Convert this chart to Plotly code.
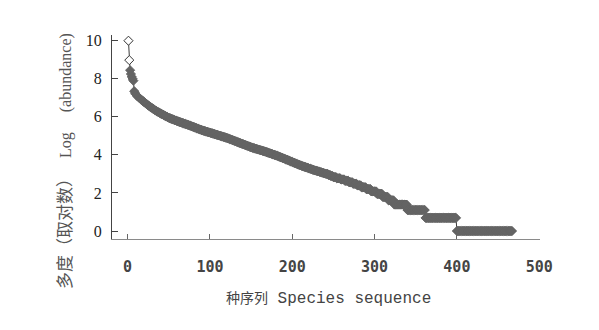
import plotly.graph_objects as go

# log(abundance) of each species, in rank order
log_abundance = [
    10.00, 8.98, 8.45, 8.25, 8.10, 8.00, 7.90, 7.35, 7.25, 7.18, 7.12, 7.08, 7.04,
    7.00, 6.96, 6.92, 6.89, 6.85, 6.81, 6.78, 6.74, 6.71, 6.67, 6.64, 6.60,
    6.57, 6.54, 6.51, 6.48, 6.45, 6.42, 6.39, 6.36, 6.33, 6.30, 6.28, 6.25,
    6.23, 6.20, 6.18, 6.16, 6.13, 6.11, 6.09, 6.06, 6.04, 6.02, 6.00, 5.97, 5.95,
    5.93, 5.92, 5.90, 5.88, 5.87, 5.85, 5.83, 5.81, 5.80, 5.78,
    5.76, 5.75, 5.73, 5.72, 5.70, 5.69, 5.67, 5.66, 5.64, 5.63, 5.61, 5.60, 5.58, 5.57, 5.55,
    5.53, 5.52, 5.50, 5.48, 5.47, 5.45, 5.43, 5.42, 5.40, 5.38, 5.37, 5.35, 5.33, 5.32, 5.30,
    5.29, 5.27, 5.26, 5.25, 5.23, 5.22, 5.21, 5.19, 5.18, 5.17, 5.15, 5.14, 5.13, 5.11, 5.10,
    5.09, 5.07, 5.06, 5.05, 5.03, 5.02, 5.01, 4.99, 4.98, 4.97, 4.95, 4.94, 4.93, 4.91, 4.90,
    4.88, 4.87, 4.85, 4.83, 4.82, 4.80, 4.78, 4.77, 4.75, 4.73, 4.72, 4.70, 4.68, 4.67, 4.65,
    4.63, 4.62, 4.60, 4.58, 4.57, 4.55, 4.53, 4.52, 4.50, 4.48, 4.47, 4.45, 4.43, 4.42, 4.40,
    4.39, 4.37, 4.36, 4.35, 4.33, 4.32, 4.31, 4.29, 4.28, 4.27, 4.25, 4.24, 4.23, 4.21, 4.20,
    4.19, 4.17, 4.16, 4.14, 4.13, 4.11, 4.10, 4.08, 4.07, 4.05, 4.04, 4.02, 4.01, 3.99, 3.98,
    3.96, 3.95, 3.93, 3.91, 3.89, 3.88, 3.86, 3.84, 3.82, 3.81, 3.79, 3.77, 3.75, 3.74, 3.72,
    3.70, 3.68, 3.66, 3.65, 3.63, 3.61, 3.59, 3.57, 3.56, 3.54, 3.52, 3.50, 3.48, 3.47, 3.45,
    3.43, 3.42, 3.40, 3.39, 3.37, 3.36, 3.34, 3.33, 3.31, 3.30, 3.28, 3.27, 3.25, 3.24, 3.22,
    3.21, 3.19, 3.18, 3.17, 3.15, 3.14, 3.13, 3.11, 3.10, 3.09, 3.07, 3.06, 3.05, 3.03, 3.02,
    3.00, 3.00, 3.00, 2.94, 2.94, 2.94, 2.89, 2.89, 2.89, 2.83, 2.83, 2.83, 2.83, 2.77, 2.77,
    2.77, 2.77, 2.77, 2.71, 2.71, 2.71, 2.71, 2.71, 2.64, 2.64, 2.64, 2.64, 2.64, 2.56, 2.56,
    2.56, 2.56, 2.56, 2.48, 2.48, 2.48, 2.48, 2.48, 2.40, 2.40, 2.40, 2.40, 2.40, 2.30, 2.30,
    2.30, 2.30, 2.30, 2.30, 2.20, 2.20, 2.20, 2.20, 2.20, 2.20, 2.08, 2.08, 2.08, 2.08, 2.08,
    2.08, 2.08,
    1.95, 1.95, 1.95, 1.95, 1.95, 1.95, 1.95,
    1.79, 1.79, 1.79, 1.79, 1.79, 1.79, 1.79,
    1.61, 1.61, 1.61, 1.61, 1.61, 1.61, 1.61,
    1.39, 1.39, 1.39, 1.39, 1.39, 1.39, 1.39, 1.39, 1.39, 1.39, 1.39, 1.39, 1.39, 1.39, 1.39, 1.39,
    1.10, 1.10, 1.10, 1.10, 1.10, 1.10, 1.10, 1.10, 1.10, 1.10, 1.10,
    1.10, 1.10, 1.10, 1.10, 1.10, 1.10, 1.10, 1.10, 1.10, 1.10, 1.10,
    0.69, 0.69, 0.69, 0.69, 0.69, 0.69, 0.69, 0.69, 0.69, 0.69, 0.69, 0.69, 0.69,
    0.69, 0.69, 0.69, 0.69, 0.69, 0.69, 0.69, 0.69, 0.69, 0.69, 0.69, 0.69, 0.69,
    0.69, 0.69, 0.69, 0.69, 0.69, 0.69, 0.69, 0.69, 0.69, 0.69, 0.69, 0.69,
    0.00, 0.00, 0.00, 0.00, 0.00, 0.00, 0.00, 0.00, 0.00, 0.00, 0.00, 0.00, 0.00, 0.00, 0.00, 0.00, 0.00,
    0.00, 0.00, 0.00, 0.00, 0.00, 0.00, 0.00, 0.00, 0.00, 0.00, 0.00, 0.00, 0.00, 0.00, 0.00, 0.00, 0.00,
    0.00, 0.00, 0.00, 0.00, 0.00, 0.00, 0.00, 0.00, 0.00, 0.00, 0.00, 0.00, 0.00, 0.00, 0.00, 0.00, 0.00,
    0.00, 0.00, 0.00, 0.00, 0.00, 0.00, 0.00, 0.00, 0.00, 0.00, 0.00, 0.00, 0.00, 0.00, 0.00, 0.00, 0.00,
]
species_rank = list(range(1, len(log_abundance) + 1))

x_tick_values = [0, 100, 200, 300, 400, 500]
y_tick_values = [0, 2, 4, 6, 8, 10]
n_open_markers = 2

x_title = '<span style="font-size:14px">种序列</span> Species sequence'
y_title = ('<span style="font-size:17px">多度（取对数）</span>'
           '\u00a0\u00a0\u00a0Log\u00a0\u00a0\u00a0\u00a0\u00a0(abundance)')

fill = "#646464"
n = len(log_abundance)
marker_fill = ["white"] * n_open_markers + [fill] * (n - n_open_markers)
marker_edge = ["#333333"] * n_open_markers + [fill] * (n - n_open_markers)

fig = go.Figure()
fig.add_trace(go.Scatter(
    x=species_rank, y=log_abundance, mode="lines+markers",
    line=dict(color="#3a3a3a", width=1),
    marker=dict(symbol="diamond", size=7, color=marker_fill,
                line=dict(color=marker_edge, width=1)),
    showlegend=False, hoverinfo="skip",
))

fig.update_layout(
    width=599, height=330,
    margin=dict(l=112, r=59, t=35, b=91),
    plot_bgcolor="white", paper_bgcolor="white",
    xaxis=dict(
        range=[-19, 501], tickvals=x_tick_values, ticks="inside", ticklen=5,
        tickcolor="#666666", showline=True, linecolor="#8a8a8a", linewidth=1,
        showgrid=False, zeroline=False, ticklabelstandoff=14,
        tickfont=dict(family="DejaVu Sans Mono", size=15, color="#444444", weight="bold"),
    ),
    yaxis=dict(
        range=[-0.42, 10.3], tickvals=y_tick_values, ticks="inside", ticklen=6,
        tickcolor="#444444", showline=True, linecolor="#444444", linewidth=1,
        showgrid=False, zeroline=False, ticklabelstandoff=6,
        tickfont=dict(family="Liberation Serif", size=16, color="#222222"),
    ),
    annotations=[
        dict(text=x_title, xref="paper", yref="paper", x=0.505, y=-0.294,
             xanchor="center", yanchor="middle", showarrow=False,
             font=dict(family="Liberation Mono, Noto Sans CJK SC", size=16, color="#444444")),
        dict(text=y_title, xref="paper", yref="paper", x=-0.11, y=0.382,
             xanchor="center", yanchor="middle", showarrow=False, textangle=-90,
             font=dict(family="Liberation Serif, Noto Sans CJK SC", size=16, color="#555555")),
    ],
)

fig.write_html("out.html")
